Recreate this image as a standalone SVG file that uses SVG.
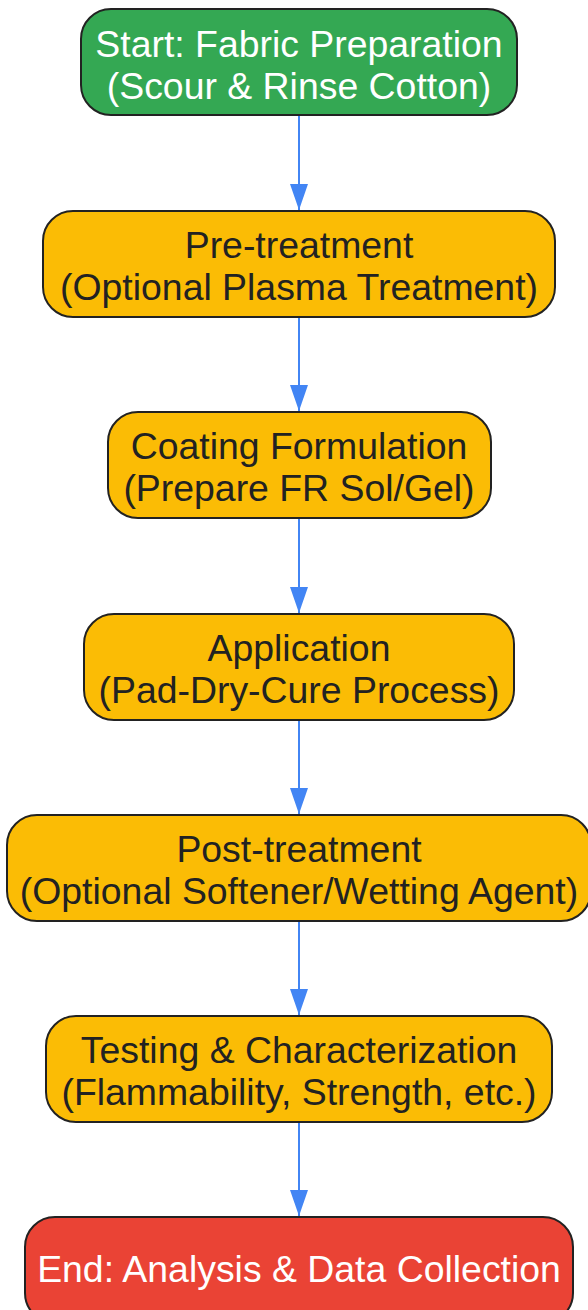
<svg xmlns="http://www.w3.org/2000/svg" width="588" height="1310" viewBox="0 0 588 1310">
<defs>
<style>
.n{stroke:#222;stroke-width:2}
.g{fill:#34A853}.y{fill:#FBBC05}.r{fill:#EA4335}
.t{font-family:"Liberation Sans",Arial,sans-serif;font-size:37.4px;text-anchor:middle}
.w{fill:#fff}.d{fill:#222}
.e{stroke:#4285F4;stroke-width:2;fill:none;marker-end:url(#a)}
</style>
<marker id="a" markerWidth="26" markerHeight="18" refX="26" refY="9" orient="auto" markerUnits="userSpaceOnUse" viewBox="0 0 26 18"><path d="M0,0 L26,9 L0,18 z" fill="#4285F4"/></marker>
</defs>
<rect width="588" height="1310" fill="#fff"/>
<g id="edges">
<line class="e" x1="299" y1="116" x2="299" y2="210"/>
<line class="e" x1="299" y1="318" x2="299" y2="411"/>
<line class="e" x1="299" y1="519" x2="299" y2="613"/>
<line class="e" x1="299" y1="721" x2="299" y2="814"/>
<line class="e" x1="299" y1="922" x2="299" y2="1015"/>
<line class="e" x1="299" y1="1123" x2="299" y2="1216"/>
</g>
<g id="start"><rect class="n g" x="81" y="9" width="436" height="106" rx="30"/>
<text class="t w" x="299" y="57">Start: Fabric Preparation</text><text class="t w" x="299" y="99">(Scour &amp; Rinse Cotton)</text></g>
<g id="pre"><rect class="n y" x="43" y="211" width="512" height="106" rx="30"/>
<text class="t d" x="299" y="258">Pre-treatment</text><text class="t d" x="299" y="300">(Optional Plasma Treatment)</text></g>
<g id="coat"><rect class="n y" x="108" y="412" width="383" height="106" rx="30"/>
<text class="t d" x="299" y="459">Coating Formulation</text><text class="t d" x="299" y="501">(Prepare FR Sol/Gel)</text></g>
<g id="app"><rect class="n y" x="84" y="614" width="430" height="106" rx="30"/>
<text class="t d" x="299" y="661">Application</text><text class="t d" x="299" y="703">(Pad-Dry-Cure Process)</text></g>
<g id="post"><rect class="n y" x="7" y="815" width="584" height="106" rx="30"/>
<text class="t d" x="299" y="862">Post-treatment</text><text class="t d" x="299" y="904">(Optional Softener/Wetting Agent)</text></g>
<g id="test"><rect class="n y" x="46" y="1016" width="506" height="106" rx="30"/>
<text class="t d" x="299" y="1063">Testing &amp; Characterization</text><text class="t d" x="299" y="1105">(Flammability, Strength, etc.)</text></g>
<g id="end"><rect class="n r" x="25" y="1217" width="548" height="106" rx="30"/>
<text class="t w" x="299" y="1282">End: Analysis &amp; Data Collection</text></g>
</svg>
